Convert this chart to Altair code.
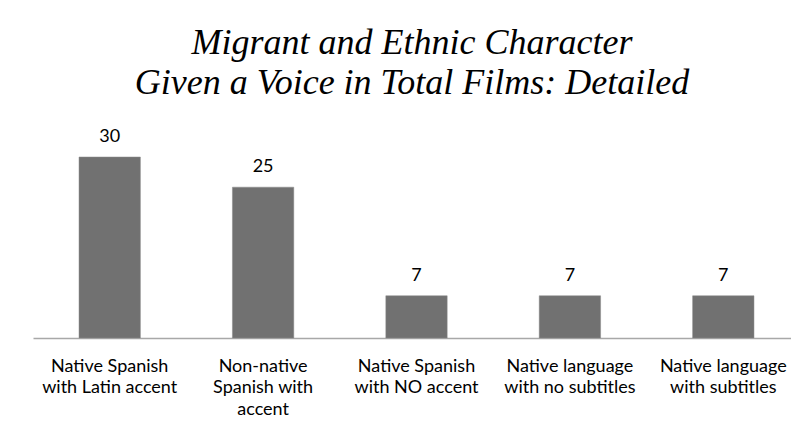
import altair as alt
import pandas as pd

categories = [
    "Native Spanish\nwith Latin accent",
    "Non-native\nSpanish with\naccent",
    "Native Spanish\nwith NO accent",
    "Native language\nwith no subtitles",
    "Native language\nwith subtitles",
]
values = [30, 25, 7, 7, 7]
title_lines = ["Migrant and Ethnic Character", "Given a Voice in Total Films: Detailed"]

df = pd.DataFrame({"cat": categories, "val": values})

x = alt.X(
    "cat:N",
    sort=categories,
    scale=alt.Scale(range=[0, 767], paddingInner=0.6, paddingOuter=0.3),
    axis=alt.Axis(
        title=None,
        labelAngle=0,
        labelExpr="split(datum.label, '\\n')",
        labelFont="Lato",
        labelFontSize=18,
        labelColor="#000000",
        labelLineHeight=21.5,
        labelPadding=19,
        labelBaseline="top",
        ticks=False,
        grid=False,
        domainColor="#a8a8a8",
        domainWidth=1.5,
    ),
)
y = alt.Y("val:Q", scale=alt.Scale(domain=[0, 30]), axis=None)

bars = alt.Chart(df).mark_bar(color="#717171", stroke="#8a8a8a", strokeWidth=0.5).encode(x=x, y=y)
text = alt.Chart(df).mark_text(
    dy=-11, baseline="bottom", font="Lato", fontSize=18, fontWeight="normal", color="#000000"
).encode(x=alt.X("cat:N", sort=categories), y=y, text="val:Q")

chart = (
    alt.layer(bars, text)
    .properties(
        width=758,
        height=181,
        background="white",
        title=alt.TitleParams(
            text=title_lines,
            font="Liberation Serif",
            fontSize=36,
            fontStyle="italic",
            fontWeight="normal",
            color="#000000",
            lineHeight=40,
            anchor="middle",
            offset=26,
        ),
        padding={"left": 33, "top": 157, "right": 0, "bottom": 96},
        autosize=alt.AutoSizeParams(type="none"),
    )
    .configure_view(strokeWidth=0, stroke="transparent")
    .configure_axis(grid=False)
)

chart.save("out.html", embed_options={"renderer": "svg", "actions": False})
